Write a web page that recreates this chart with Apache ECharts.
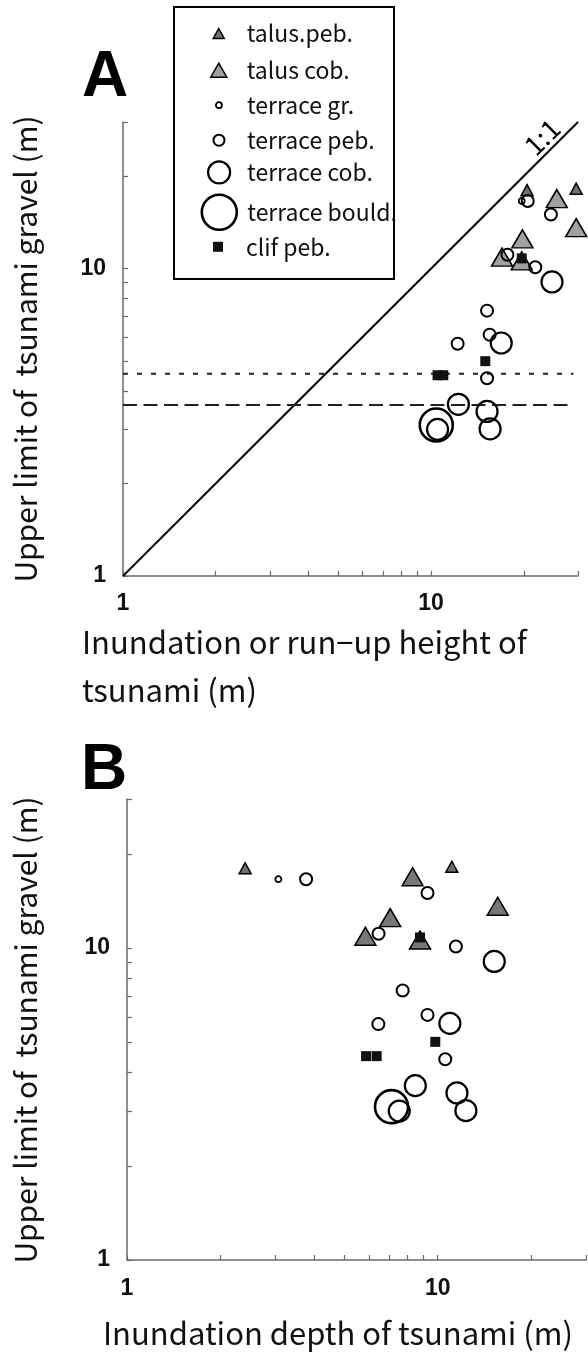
<!DOCTYPE html>
<html><head><meta charset="utf-8">
<script src="https://cdn.jsdelivr.net/npm/echarts@6/dist/echarts.min.js"></script>
<style>html,body{margin:0;padding:0;background:#fff}#c{width:588px;height:1355px}</style>
</head><body><div id="c"></div>
<script>
// ---------- data ----------
const categories = ['talus.peb.', 'talus cob.', 'terrace gr.', 'terrace peb.', 'terrace cob.', 'terrace bould.', 'clif peb.'];
// y = upper limit of tsunami gravel (m), shared by both panels
// xA = inundation or run-up height (m), xB = inundation depth (m)
const talusPebY  = [18.0, 18.2];
const talusPebXA = [20.5, 29.6];
const talusPebXB = [2.40, 11.1];
const talusCobY  = [16.9, 13.6, 12.5, 10.9, 10.6];
const talusCobXA = [25.6, 29.6, 19.8, 17.0, 19.7];
const talusCobXB = [8.3, 15.6, 7.03, 5.85, 8.77];
const terraceGrY  = [16.6];
const terraceGrXA = [19.7];
const terraceGrXB = [3.07];
const terracePebY  = [16.6, 15.0, 11.1, 10.1, 7.3, 6.1, 5.7, 4.4];
const terracePebXA = [20.6, 24.5, 17.7, 21.8, 15.2, 15.5, 12.2, 15.2];
const terracePebXB = [3.77, 9.27, 6.45, 11.44, 7.71, 9.27, 6.44, 10.57];
const terraceCobY  = [9.05, 5.73, 3.62, 3.43, 3.0, 3.01];
const terraceCobXA = [24.7, 16.9, 12.27, 15.2, 10.5, 15.55];
const terraceCobXB = [15.2, 10.94, 8.47, 11.53, 7.52, 12.32];
const terraceBouldY  = [3.1];
const terraceBouldXA = [10.4];
const terraceBouldXB = [7.10];
const clifPebY  = [10.8, 5.0, 4.5, 4.5];
const clifPebXA = [19.7, 15.0, 10.5, 10.96];
const clifPebXB = [8.77, 9.82, 5.88, 6.36];
// reference lines (panel A)
const oneToOneX = [1, 30];
const levelLineX = [1, 29];
const dottedLevel = 4.55;
const dashedLevel = 3.6;
// ticks
const tickValues = [1, 2, 3, 4, 5, 6, 7, 8, 9, 10, 20, 30];
const labelValues = [1, 10];
const axisMin = 1, axisMax = 30;

// ---------- styles ----------
const TF = '"Noto Sans CJK JP", "Noto Sans", sans-serif';
const styles = {
  'talus.peb.':     {symbol: 'triangle', size: [12, 11], lsize: [11, 10], fillA: '#707070', fillB: '#6e6e6e', bw: 1.5, z: 2},
  'talus cob.':     {symbol: 'triangle', size: [21, 18], lsize: [16, 14], fillA: '#a0a0a0', fillB: '#777777', bw: 1.5, z: 1},
  'terrace gr.':    {symbol: 'circle', size: 6,  lsize: 6,  fillA: 'transparent', fillB: 'transparent', bw: 1.8, z: 3},
  'terrace peb.':   {symbol: 'circle', size: 12, lsize: 11, fillA: 'transparent', fillB: 'transparent', bw: 2, z: 3},
  'terrace cob.':   {symbol: 'circle', size: 21, lsize: 22, fillA: 'transparent', fillB: 'transparent', bw: 2.2, z: 3},
  'terrace bould.': {symbol: 'circle', size: 33, lsize: 35, fillA: 'transparent', fillB: 'transparent', bw: 2.6, z: 3},
  'clif peb.':      {symbol: 'rect', size: 10, lsize: 10, fillA: '#111', fillB: '#111', bw: 0, z: 4}
};
const dataSets = {
  'talus.peb.':     [talusPebXA, talusPebXB, talusPebY],
  'talus cob.':     [talusCobXA, talusCobXB, talusCobY],
  'terrace gr.':    [terraceGrXA, terraceGrXB, terraceGrY],
  'terrace peb.':   [terracePebXA, terracePebXB, terracePebY],
  'terrace cob.':   [terraceCobXA, terraceCobXB, terraceCobY],
  'terrace bould.': [terraceBouldXA, terraceBouldXB, terraceBouldY],
  'clif peb.':      [clifPebXA, clifPebXB, clifPebY]
};

function logAxis(gridIndex, isY, margin) {
  return {
    type: 'log', logBase: 10, min: axisMin, max: axisMax, gridIndex: gridIndex,
    axisLine: {show: true, lineStyle: {color: '#6a6a6a', width: 1.5}},
    axisTick: {show: true, inside: true, length: 5, customValues: tickValues, lineStyle: {color: '#6a6a6a', width: 1.2}},
    axisLabel: {show: true, customValues: labelValues, margin: margin, color: '#111',
      fontFamily: '"Liberation Sans", Arial, sans-serif', fontWeight: 'bold', fontSize: 23,
      formatter: v => String(Math.round(v))},
    splitLine: {show: false}, minorTick: {show: false}, minorSplitLine: {show: false}
  };
}

const series = [];
categories.forEach(name => {
  const st = styles[name];
  const [xa, xb, ys] = dataSets[name];
  [0, 1].forEach(g => {
    const xs = g === 0 ? xa : xb;
    series.push({
      type: 'scatter', name: name, xAxisIndex: g, yAxisIndex: g,
      data: xs.map((x, i) => [x, ys[i]]),
      symbol: st.symbol, symbolSize: st.size, z: st.z + 2, silent: true,
      itemStyle: {color: g === 0 ? st.fillA : st.fillB, borderColor: '#000', borderWidth: st.bw, opacity: 1},
      emphasis: {disabled: true}
    });
  });
});
// 1:1 line and the two level lines (panel A)
series.push({type: 'line', xAxisIndex: 0, yAxisIndex: 0, data: oneToOneX.map(v => [v, v]), showSymbol: false, silent: true,
  lineStyle: {color: '#000', width: 2}, z: 1});
series.push({type: 'line', xAxisIndex: 0, yAxisIndex: 0, data: levelLineX.map(v => [v, dottedLevel]), showSymbol: false, silent: true,
  lineStyle: {color: '#222', width: 2, type: [5, 9]}, z: 1});
series.push({type: 'line', xAxisIndex: 0, yAxisIndex: 0, data: levelLineX.map(v => [v, dashedLevel]), showSymbol: false, silent: true,
  lineStyle: {color: '#222', width: 2, type: [14, 6.5]}, z: 1});

// legend rows
const rowCenters = [35, 71.7, 106.7, 141.7, 173.3, 211, 248.3];
const legends = categories.map((name, i) => {
  const st = styles[name];
  const w = Array.isArray(st.lsize) ? st.lsize[0] : st.lsize;
  const h = Array.isArray(st.lsize) ? st.lsize[1] : st.lsize;
  const H = Math.max(h, 26);
  return {
    data: [{name: name, icon: st.symbol}], left: 218 - w / 2, top: rowCenters[i] - H / 2, padding: 0,
    itemWidth: w, itemHeight: h, selectedMode: false, orient: 'horizontal',
    itemStyle: {color: st.fillA, borderColor: '#000', borderWidth: st.bw},
    textStyle: {fontFamily: TF, fontSize: 23, color: '#111', padding: [0, 0, 0, 23 - w / 2]}
  };
});

const chart = echarts.init(document.getElementById('c'), null, {renderer: 'canvas'});
chart.setOption({
  backgroundColor: '#fff',
  animation: false,
  legend: legends,
  grid: [
    {left: 123, top: 122, width: 455, height: 454, containLabel: false, outerBoundsMode: 'none'},
    {left: 127, top: 799, width: 459, height: 461, containLabel: false, outerBoundsMode: 'none'}
  ],
  xAxis: [logAxis(0, false, 16), logAxis(1, false, 17)],
  yAxis: [logAxis(0, true, 17), logAxis(1, true, 17)],
  series: series,
  graphic: [
    {type: 'rect', shape: {x: 174, y: 7, width: 220, height: 272}, style: {fill: 'none', stroke: '#000', lineWidth: 2}, z: 10},
    {type: 'text', x: 82, y: 110, style: {text: 'A', font: 'bold 64px "Liberation Sans", Arial, sans-serif', fill: '#000', textVerticalAlign: 'bottom'}},
    {type: 'text', x: 81, y: 803, style: {text: 'B', font: 'bold 64px "Liberation Sans", Arial, sans-serif', fill: '#000', textVerticalAlign: 'bottom'}},
    {type: 'text', x: 542, y: 137, rotation: Math.PI / 4, style: {text: '1:1', font: '27px ' + TF, fill: '#000', textAlign: 'center', textVerticalAlign: 'middle'}},
    {type: 'text', x: 26, y: 349, rotation: Math.PI / 2, style: {text: 'Upper limit of  tsunami gravel (m)', font: '30px ' + TF, fill: '#111', textAlign: 'center', textVerticalAlign: 'middle'}},
    {type: 'text', x: 26, y: 1030, rotation: Math.PI / 2, style: {text: 'Upper limit of  tsunami gravel (m)', font: '30px ' + TF, fill: '#111', textAlign: 'center', textVerticalAlign: 'middle'}},
    {type: 'text', x: 82, y: 642, style: {text: 'Inundation or run\u2212up height of', font: '31px ' + TF, fill: '#111', textAlign: 'left', textVerticalAlign: 'middle'}},
    {type: 'text', x: 82, y: 690, style: {text: 'tsunami (m)', font: '31px ' + TF, fill: '#111', textAlign: 'left', textVerticalAlign: 'middle'}},
    {type: 'text', x: 103, y: 1333, style: {text: 'Inundation depth of tsunami (m)', font: '31px ' + TF, fill: '#111', textAlign: 'left', textVerticalAlign: 'middle'}}
  ]
});
</script></body></html>
